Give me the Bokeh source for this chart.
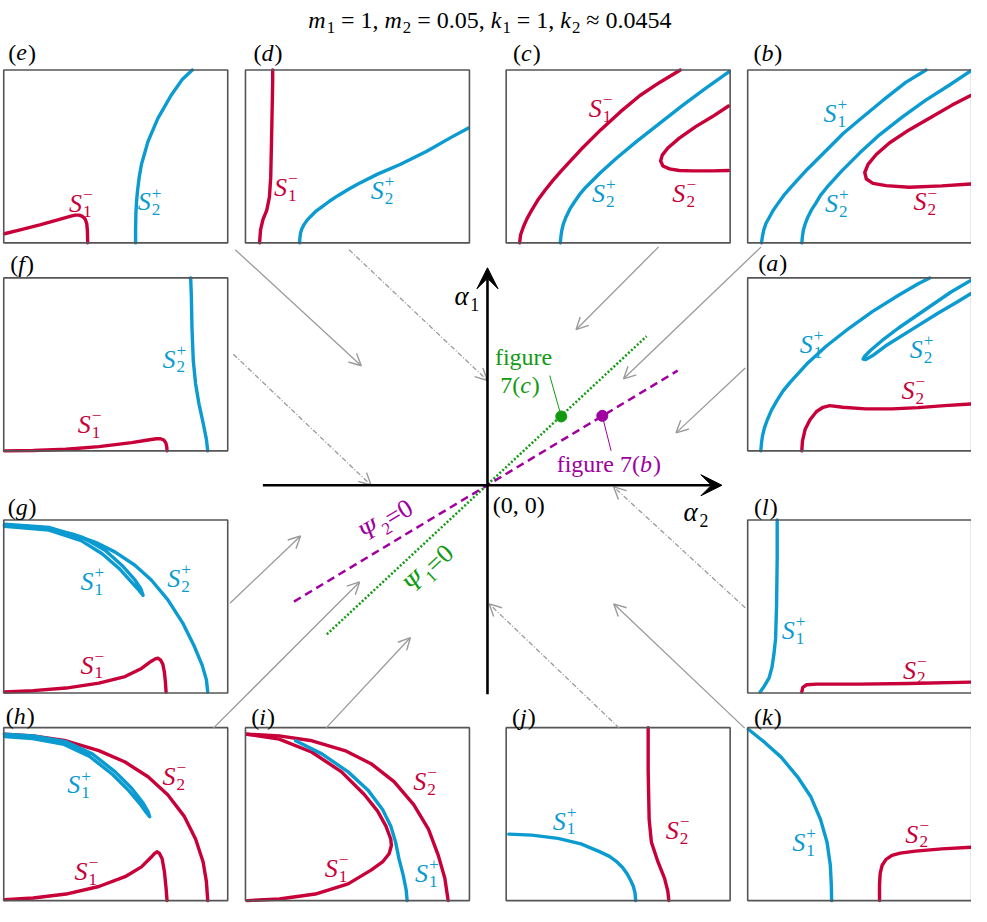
import math
from bokeh.plotting import figure
from bokeh.models import Range1d, Arrow, OpenHead, VeeHead, ColumnDataSource
from bokeh.core.properties import value
from bokeh.embed import file_html
from bokeh.resources import INLINE

# ---------------- data (panel-local units: 0..683 across, 0..528 down) ----------------
# (e)
E_S1M = [(2,500),(50,488),(110,473),(170,456),(205,446),(218,443),(230,443),(240,447),(248,455),(253,468),(255,490),(256,528)]
E_S2P = [(402,528),(402,508),(402,488),(403,438),(405,400),(408,368),(413,328),(420,288),(440,218),(470,148),(510,78),(545,28),(575,0)]
# (d)
D_S1M = [(43,528),(46,488),(53,458),(65,428),(73,388),(77,328),(79,238),(81,138),(83,38),(83,0)]
D_S2P = [(165,528),(166,513),(168,498),(172,485),(178,473),(187,460),(198,448),(214,432),(233,418),(257,400),(283,383),(313,365),(343,348),(403,318),(473,288),(553,248),(623,208),(680,177)]
# (c)
C_S1M = [(41,528),(44,503),(53,478),(64,453),(78,428),(96,398),(118,368),(142,338),(168,308),(228,243),(288,183),(348,128),(408,78),(468,38),(531,0)]
C_S2P = [(165,528),(167,508),(170,488),(175,468),(183,448),(194,425),(208,403),(224,380),(243,358),(288,313),(338,268),(398,218),(468,163),(538,108),(608,56),(680,5)]
C_S2M = [(678,110),(628,143),(578,173),(528,208),(493,238),(476,260),(471,278),(478,293),(498,302),(528,307),(568,308),(628,308),(678,307)]
# (b)
B_S1P = [(42,528),(45,508),(49,488),(56,468),(67,448),(78,428),(92,408),(110,383),(132,358),(182,303),(237,248),(292,193),(352,143),(412,93),(482,38),(544,0)]
B_S2P = [(165,528),(167,508),(170,488),(176,468),(184,448),(194,428),(207,408),(222,383),(242,358),(287,308),(342,253),(402,198),(472,143),(542,93),(612,48),(680,3)]
B_S2M = [(680,78),(622,108),(562,143),(492,183),(432,223),(392,258),(367,288),(357,313),(362,333),(382,346),(422,353),(492,358),(592,354),(680,348)]
# (f)
F_S2P = [(570,0),(572,53),(574,153),(578,253),(585,323),(595,383),(608,443),(618,493),(622,528)]
F_S1M = [(2,528),(90,527),(190,523),(290,515),(390,503),(440,495),(465,491),(478,491),(488,495),(494,503),(497,515),(498,528)]
# (a)
A_S1P = [(40,528),(42,505),(45,483),(51,458),(60,433),(73,403),(90,373),(108,345),(130,318),(180,263),(240,208),(310,153),(380,103),(460,53),(520,18),(555,0)]
A_S2P = [(680,8),(620,43),(540,98),(460,153),(410,191),(375,221),(357,239),(352,248),(360,249),(380,238),(420,208),(500,158),(580,108),(640,73),(680,48)]
A_S2M = [(165,528),(167,498),(175,463),(190,433),(210,408),(230,395),(250,390),(290,395),(360,400),(440,400),(520,396),(600,390),(680,385)]
# (g)
G_S2P = [(2,16),(70,19),(140,28),(210,43),(280,68),(340,98),(400,138),(450,183),(500,243),(545,313),(580,383),(605,443),(618,488),(622,525)]
G_S1P = [(2,13),(140,23),(240,53),(310,93),(360,138),(400,183),(418,210),(425,230),(412,214),(391,191),(351,147),(300,103),(236,63),(138,31),(2,19)]
G_S1M = [(2,525),(90,521),(190,513),(290,498),(370,478),(420,453),(450,431),(462,424),(470,422),(478,427),(485,440),(490,465),(493,495),(495,525)]
# (l)
L_S1P = [(90,0),(90,113),(88,263),(85,363),(80,410),(74,450),(65,483),(50,508),(38,525)]
L_S2M = [(165,525),(168,511),(180,503),(210,501),(340,501),(490,499),(680,495)]
# (h)
H_S2M = [(2,20),(90,25),(190,40),(290,70),(370,105),(440,150),(500,205),(550,270),(585,340),(608,410),(618,470),(622,528)]
H_S1P = [(2,20),(90,25),(190,43),(270,80),(340,135),(390,185),(425,230),(440,256),(445,272),(434,258),(418,236),(382,193),(332,143),(262,88),(184,51),(88,33),(2,27)]
H_S1M = [(2,525),(90,520),(190,508),(290,485),(370,455),(420,425),(450,395),(460,384),(468,379),(475,384),(483,400),(490,440),(495,490),(498,528)]
# (i)
I_S2M = [(5,20),(103,25),(203,40),(303,70),(383,110),(453,165),(513,235),(558,310),(588,390),(608,460),(618,528)]
I_S1M = [(5,20),(103,35),(203,75),(293,135),(363,205),(403,255),(428,300),(443,340),(445,360),(438,385),(418,410),(383,435),(313,477),(213,508),(103,523),(5,528)]
I_S1P = [(153,40),(233,80),(313,135),(373,190),(418,250),(443,300),(458,350),(468,400),(481,450),(490,495),(493,528)]
# (j)
J_S1P = [(8,325),(78,328),(158,338),(228,355),(288,380),(315,393),(338,410),(355,427),(368,445),(379,465),(388,485),(393,505),(395,528)]
J_S2M = [(433,0),(433,130),(436,280),(443,350),(463,410),(483,460),(493,500),(496,528)]
# (k)
K_S1P = [(2,5),(52,45),(102,90),(152,150),(192,210),(222,280),(242,350),(252,420),(255,480),(256,528)]
K_S2M = [(402,528),(402,480),(404,445),(410,420),(422,402),(440,390),(465,383),(512,377),(592,370),(682,365)]

# curve labels: (subscript, superscript, x, y) in panel-local units
E_LABELS = [("1", "−", 235, 408), ("2", "+", 445, 403)]
D_LABELS = [("1", "−", 123, 358), ("2", "+", 418, 368)]
C_LABELS = [("1", "−", 288, 118), ("2", "+", 298, 378), ("2", "−", 543, 378)]
B_LABELS = [("1", "+", 267, 133), ("2", "+", 272, 408), ("2", "−", 542, 403)]
F_LABELS = [("2", "+", 520, 248), ("1", "−", 262, 448)]
A_LABELS = [("1", "+", 195, 203), ("2", "+", 530, 218), ("2", "−", 505, 343)]
G_LABELS = [("1", "+", 270, 188), ("2", "+", 535, 178), ("1", "−", 270, 443)]
L_LABELS = [("1", "+", 140, 338), ("2", "−", 510, 458)]
H_LABELS = [("1", "+", 230, 175), ("2", "−", 520, 150), ("1", "−", 252, 440)]
I_LABELS = [("2", "−", 548, 165), ("1", "−", 278, 430), ("1", "+", 553, 445)]
J_LABELS = [("1", "+", 178, 285), ("2", "−", 523, 315)]
K_LABELS = [("1", "+", 172, 350), ("2", "−", 517, 325)]

# central diagram (page units)
PSI1_X = [331.7, 656.7]
PSI1_Y = [645.0, 341.7]
PSI2_X = [298.3, 688.3]
PSI2_Y = [611.7, 376.7]
POINT_7C = (570.0, 423.3)
POINT_7B = (611.7, 422.7)

RED = "#c8003a"
BLUE = "#0b9bd0"
GREEN = "#129a12"
PURPLE = "#a000a0"
GRAY = "#9a9a9a"
BOXC = "#555555"
FONT = "Liberation Serif"

# ---------------- layout ----------------
W, H = 971, 906
XR, YR = 987.0, 922.0
SX, SY = W / XR, H / YR
PW, PH = 683 / 3.0, 528 / 3.0

COLS = [3.3, 249.0, 514.0, 759.5]
ROWS = [70.7, 282.3, 528.7, 740.0]

PANELS = {
    "e": (0, 0, [(E_S1M, RED), (E_S2P, BLUE)], E_LABELS, (22, 53)),
    "d": (1, 0, [(D_S1M, RED), (D_S2P, BLUE)], D_LABELS, (272, 53)),
    "c": (2, 0, [(C_S1M, RED), (C_S2P, BLUE), (C_S2M, RED)], C_LABELS, (535, 53)),
    "b": (3, 0, [(B_S1P, BLUE), (B_S2P, BLUE), (B_S2M, RED)], B_LABELS, (780, 53)),
    "f": (0, 1, [(F_S2P, BLUE), (F_S1M, RED)], F_LABELS, (22, 268)),
    "a": (3, 1, [(A_S1P, BLUE), (A_S2P, BLUE), (A_S2M, RED)], A_LABELS, (785, 267)),
    "g": (0, 2, [(G_S2P, BLUE), (G_S1P, BLUE), (G_S1M, RED)], G_LABELS, (22, 515)),
    "l": (3, 2, [(L_S1P, BLUE), (L_S2M, RED)], L_LABELS, (778, 515)),
    "h": (0, 3, [(H_S2M, RED), (H_S1P, BLUE), (H_S1M, RED)], H_LABELS, (20, 728)),
    "i": (1, 3, [(I_S2M, RED), (I_S1M, RED), (I_S1P, BLUE)], I_LABELS, (267, 729)),
    "j": (2, 3, [(J_S1P, BLUE), (J_S2M, RED)], J_LABELS, (532, 729)),
    "k": (3, 3, [(K_S1P, BLUE), (K_S2M, RED)], K_LABELS, (780, 729)),
}

WN = {' ': .25, ',': .25, '.': .25, '=': .564, '≈': .549, '(': .333, ')': .333,
      'f': .333, 'i': .278, 'g': .5, 'u': .5, 'r': .333, 'e': .444, '+': .564, '−': .564}
WI = {'m': .722, 'k': .444, 'S': .5, 'e': .444, 'd': .5, 'c': .444, 'b': .5, 'a': .5,
      'f': .278, 'g': .5, 'l': .278, 'h': .5, 'i': .278, 'j': .278, 'α': .55, 'Ψ': .78}

texts = {}


def add_text(x, y, t, style, size, color, angle):
    key = (style, round(size, 1), color)
    d = texts.setdefault(key, dict(x=[], y=[], text=[], angle=[]))
    d["x"].append(x)
    d["y"].append(y)
    d["text"].append(t)
    d["angle"].append(angle)


def twidth(t, italic, size):
    tab = WI if italic else WN
    return sum(tab.get(c, 0.5) for c in t) * size


def rich(cx, cy, parts, size, color, angle_deg=0.0, small_ratio=0.7):
    th = math.radians(angle_deg)
    ux, uy = math.cos(th) / SX, -math.sin(th) / SY
    nx, ny = math.sin(th) / SX, math.cos(th) / SY
    small = size * small_ratio
    items, total = [], 0.0
    for t, kind in parts:
        if kind == "n":
            w = twidth(t, False, size)
        elif kind == "i":
            w = twidth(t, True, size) + 0.04 * size
        elif kind in ("sub", "sup"):
            w = twidth(t, False, small)
        else:
            w = max(twidth(t[0], False, small), twidth(t[1], False, small))
        items.append((t, kind, total, w))
        total += w
    start = -total / 2.0
    for t, kind, off, w in items:
        d = start + off
        if kind in ("n", "i"):
            lead = len(t) - len(t.lstrip(' '))
            d += lead * WN[' '] * size
            add_text(cx + d * ux, cy + d * uy, t.strip(' '),
                     "italic" if kind == "i" else "normal", size, color, th)
        else:
            if kind == "sub":
                subs = [(t, 0.30)]
            elif kind == "sup":
                subs = [(t, -0.33)]
            else:
                subs = [(t[0], 0.30), (t[1], -0.34)]
            for s, k in subs:
                add_text(cx + d * ux + k * size * nx, cy + d * uy + k * size * ny,
                         s, "normal", small, color, th)


p = figure(width=W, height=H, x_range=Range1d(0, XR), y_range=Range1d(YR, 0),
           output_backend="svg", toolbar_location=None, min_border=0,
           x_axis_location=None, y_axis_location=None, background_fill_color="white")
p.grid.visible = False
p.outline_line_color = None

BASE = 24.0
SLAB = 26.0

# title
rich(497.5, 20, [("m", "i"), ("1", "sub"), (" = 1, ", "n"), ("m", "i"), ("2", "sub"),
                 (" = 0.05, ", "n"), ("k", "i"), ("1", "sub"), (" = 1, ", "n"),
                 ("k", "i"), ("2", "sub"), (" ≈ 0.0454", "n")], BASE, "black")

# panels
lefts, rights, tops, bottoms = [], [], [], []
for name, (ci, ri, curves, labels, lab) in PANELS.items():
    x0, y0 = COLS[ci], ROWS[ri]
    lefts.append(x0); rights.append(x0 + PW); tops.append(y0); bottoms.append(y0 + PH)
    for pts, col in curves:
        xs = [x0 + u / 3.0 for u, v in pts]
        ys = [y0 + v / 3.0 for u, v in pts]
        p.line(xs, ys, line_color=col, line_width=3.4, line_join="round", line_cap="round")
    for sub, sup, u, v in labels:
        col = BLUE if sup == "+" else RED
        rich(x0 + u / 3.0, y0 + v / 3.0, [("S", "i"), ((sub, sup), "subsup")], SLAB, col,
             small_ratio=0.66)
    rich(lab[0], lab[1], [("(", "n"), (name, "i"), (")", "n")], BASE, "black")

p.quad(left=lefts, right=rights, top=tops, bottom=bottoms, fill_color=None,
       line_color=BOXC, line_width=1.6)

# gray arrows: (x0, y0, x1, y1, dashed)
ARROWS = [
    (238.6, 253.6, 366.7, 371.7, False),
    (354.3, 253.6, 495.0, 386.7, True),
    (669.0, 250.7, 585.0, 335.0, False),
    (773.2, 250.7, 633.3, 385.0, False),
    (757.0, 374.0, 686.7, 440.0, False),
    (236.7, 360.0, 376.7, 493.3, True),
    (757.0, 618.0, 623.3, 495.0, True),
    (756.4, 740.5, 623.3, 614.0, False),
    (629.0, 740.5, 496.7, 614.0, True),
    (330.9, 740.5, 416.7, 648.3, False),
    (216.4, 740.5, 365.0, 591.7, False),
    (233.3, 613.3, 305.0, 545.0, False),
]
for xa, ya, xb, yb, dashed in ARROWS:
    p.add_layout(Arrow(x_start=xa, y_start=ya, x_end=xb, y_end=yb,
                       line_color=GRAY, line_width=1.3,
                       line_dash="5 2 1 2" if dashed else "solid",
                       end=OpenHead(size=12, line_color=GRAY, line_width=1.4)))

# main axes
ORIGIN = (495.0, 493.3)
p.add_layout(Arrow(x_start=266.7, y_start=ORIGIN[1], x_end=733.3, y_end=ORIGIN[1],
                   line_color="black", line_width=2.6,
                   end=VeeHead(size=21, fill_color="black", line_color="black")))
p.add_layout(Arrow(x_start=ORIGIN[0], y_start=706.0, x_end=ORIGIN[0], y_end=272.0,
                   line_color="black", line_width=2.6,
                   end=VeeHead(size=21, fill_color="black", line_color="black")))

# Psi lines
p.line(PSI1_X, PSI1_Y, line_color=GREEN, line_width=2.5, line_dash="2 2")
p.line(PSI2_X, PSI2_Y, line_color=PURPLE, line_width=2.5, line_dash="8 5")

# leaders and points
p.line([POINT_7C[0], 558.3], [POINT_7C[1], 381.7], line_color=GREEN, line_width=1)
p.line([POINT_7B[0], 620.7], [POINT_7B[1], 458.3], line_color=PURPLE, line_width=1)
p.scatter([POINT_7C[0]], [POINT_7C[1]], size=11, color=GREEN)
p.scatter([POINT_7B[0]], [POINT_7B[1]], size=11, color=PURPLE)

# central texts
rich(474, 301, [("α", "i"), ("1", "sub")], 27, "black", small_ratio=0.66)
rich(707, 521, [("α", "i"), ("2", "sub")], 27, "black", small_ratio=0.66)
rich(526.7, 513.3, [("(0, 0)", "n")], BASE, "black")
rich(531.7, 363.3, [("figure", "n")], BASE, GREEN)
rich(528.0, 391.7, [("7(", "n"), ("c", "i"), (")", "n")], BASE, GREEN)
rich(618.3, 471.7, [("figure 7(", "n"), ("b", "i"), (")", "n")], BASE, PURPLE)
rich(391.7, 529.0, [("Ψ", "i"), ("2", "sub"), ("=0", "n")], 26, PURPLE, 31.1, small_ratio=0.66)
rich(435.0, 578.3, [("Ψ", "i"), ("1", "sub"), ("=0", "n")], 26, GREEN, 43.0, small_ratio=0.66)

for (style, size, color), d in texts.items():
    p.text(x="x", y="y", text="text", angle="angle", source=ColumnDataSource(d),
           text_font=value(FONT), text_font_size=value(f"{size}px"),
           text_font_style=style, text_color=color,
           text_align="left", text_baseline="middle")

open("out.html", "w").write(file_html(p, INLINE))
